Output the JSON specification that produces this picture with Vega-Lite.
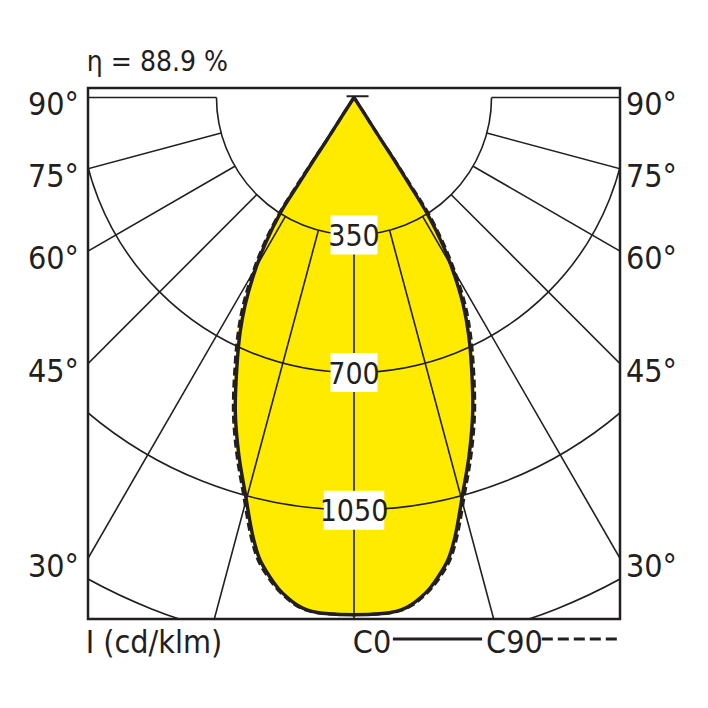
{
  "$schema": "https://vega.github.io/schema/vega-lite/v6.json",
  "description": "Polar luminous intensity diagram, C0 and C90 planes.",
  "width": 532,
  "height": 531,
  "autosize": "none",
  "padding": {"left": 88, "top": 88, "right": 88, "bottom": 89},
  "datasets": {
    "curve": [
      {"y": 0, "l0": 0, "r0": 0, "l90": 0, "r90": 0},
      {"y": 31, "l0": -20, "r0": 20, "l90": -20, "r90": 20},
      {"y": 64, "l0": -41, "r0": 41, "l90": -41, "r90": 41},
      {"y": 105, "l0": -67, "r0": 67, "l90": -67, "r90": 67},
      {"y": 151, "l0": -97, "r0": 97, "l90": -98, "r90": 98},
      {"y": 223, "l0": -143, "r0": 142, "l90": -145, "r90": 144},
      {"y": 293, "l0": -187, "r0": 185, "l90": -189, "r90": 188},
      {"y": 375, "l0": -227, "r0": 226, "l90": -230, "r90": 229},
      {"y": 456, "l0": -257, "r0": 257, "l90": -261, "r90": 261},
      {"y": 528, "l0": -277, "r0": 278, "l90": -282, "r90": 283},
      {"y": 599, "l0": -290, "r0": 291, "l90": -295, "r90": 296},
      {"y": 685, "l0": -298, "r0": 299, "l90": -303, "r90": 304},
      {"y": 803, "l0": -302, "r0": 302, "l90": -307, "r90": 307},
      {"y": 910, "l0": -293, "r0": 293, "l90": -298, "r90": 298},
      {"y": 1006, "l0": -277, "r0": 277, "l90": -282, "r90": 282},
      {"y": 1118, "l0": -257, "r0": 257, "l90": -262, "r90": 262},
      {"y": 1177, "l0": -239, "r0": 239, "l90": -244, "r90": 244},
      {"y": 1220, "l0": -214, "r0": 214, "l90": -219, "r90": 219},
      {"y": 1250, "l0": -192, "r0": 192, "l90": -196, "r90": 196},
      {"y": 1271, "l0": -171, "r0": 171, "l90": -175, "r90": 175},
      {"y": 1290, "l0": -147, "r0": 147, "l90": -151, "r90": 151},
      {"y": 1304, "l0": -120, "r0": 120, "l90": -123, "r90": 123},
      {"y": 1311, "l0": -90, "r0": 90, "l90": -93, "r90": 93},
      {"y": 1315, "l0": -45, "r0": 45, "l90": -46, "r90": 46},
      {"y": 1316, "l0": 0, "r0": 0, "l90": 0, "r90": 0}
    ],
    "cap": [{"x": -19, "x2": 37, "y": -3}],
    "rings": [{"r": 350}, {"r": 700}, {"r": 1050}, {"r": 1400}],
    "spokes": [
      {"x": 0, "y": 350, "x2": 0, "y2": 2000},
      {"x": -90.6, "y": 338.1, "x2": -517.6, "y2": 1931.9},
      {"x": 90.6, "y": 338.1, "x2": 517.6, "y2": 1931.9},
      {"x": -175, "y": 303.1, "x2": -1000, "y2": 1732.1},
      {"x": 175, "y": 303.1, "x2": 1000, "y2": 1732.1},
      {"x": -247.5, "y": 247.5, "x2": -1414.2, "y2": 1414.2},
      {"x": 247.5, "y": 247.5, "x2": 1414.2, "y2": 1414.2},
      {"x": -303.1, "y": 175, "x2": -1732.1, "y2": 1000},
      {"x": 303.1, "y": 175, "x2": 1732.1, "y2": 1000},
      {"x": -338.1, "y": 90.6, "x2": -1931.9, "y2": 517.6},
      {"x": 338.1, "y": 90.6, "x2": 1931.9, "y2": 517.6},
      {"x": -350, "y": 0, "x2": -2000, "y2": 0},
      {"x": 350, "y": 0, "x2": 2000, "y2": 0}
    ],
    "angles": [
      {"t": "90°", "y": 44},
      {"t": "75°", "y": 227},
      {"t": "60°", "y": 436},
      {"t": "45°", "y": 724},
      {"t": "30°", "y": 1220}
    ],
    "values": [
      {"t": "350", "y": 350},
      {"t": "700", "y": 700},
      {"t": "1050", "y": 1050}
    ],
    "notes": [
      {"t": "η = 88.9 %", "x": -680, "y": -66},
      {"t": "I (cd/klm)", "x": -683, "y": 1414},
      {"t": "C0", "x": -3, "y": 1414},
      {"t": "C90", "x": 336, "y": 1414}
    ],
    "keys": [
      {"c": "C0", "x": 99, "x2": 326, "y": 1378},
      {"c": "C90", "x": 478, "x2": 670, "y": 1378}
    ]
  },
  "layer": [
    {
      "data": {"name": "curve"},
      "mark": {"type": "area", "orient": "horizontal", "interpolate": "catmull-rom", "color": "#ffeb00", "clip": true},
      "encoding": {
        "y": {"field": "y", "type": "quantitative", "scale": {"domain": [-24, 1327], "reverse": true, "nice": false, "zero": false}},
        "x": {"field": "l90", "type": "quantitative", "scale": {"domain": [-677, 677], "nice": false, "zero": false}},
        "x2": {"field": "r90"}
      }
    },
    {
      "data": {"name": "rings"},
      "mark": {"type": "arc", "theta": 1.5708, "theta2": 4.7124, "fill": null, "stroke": "#231f20", "strokeWidth": 1.6, "clip": true},
      "encoding": {
        "x": {"datum": 0, "type": "quantitative", "scale": {"domain": [-677, 677], "nice": false, "zero": false}},
        "y": {"datum": 0, "type": "quantitative", "scale": {"domain": [-24, 1327], "reverse": true, "nice": false, "zero": false}},
        "radius": {"field": "r", "type": "quantitative", "scale": {"type": "linear", "domain": [0, 677], "range": [0, 266]}},
        "radius2": {"field": "r"}
      }
    },
    {
      "data": {"name": "spokes"},
      "mark": {"type": "rule", "color": "#231f20", "strokeWidth": 1.6, "clip": true},
      "encoding": {
        "x": {"field": "x", "type": "quantitative", "scale": {"domain": [-677, 677], "nice": false, "zero": false}},
        "y": {"field": "y", "type": "quantitative", "scale": {"domain": [-24, 1327], "reverse": true, "nice": false, "zero": false}},
        "x2": {"field": "x2"},
        "y2": {"field": "y2"}
      }
    },
    {
      "data": {"name": "values"},
      "mark": {"type": "point", "filled": true, "fill": "white", "opacity": 1, "strokeWidth": 0, "size": 1521},
      "encoding": {
        "x": {"datum": 0, "type": "quantitative", "scale": {"domain": [-677, 677], "nice": false, "zero": false}},
        "y": {"field": "y", "type": "quantitative", "scale": {"domain": [-24, 1327], "reverse": true, "nice": false, "zero": false}},
        "shape": {"condition": {"test": "datum.t == '1050'", "value": "M-1.55,-1H1.55V1H-1.55Z"}, "value": "M-1.2,-1H1.2V1H-1.2Z"}
      }
    },
    {
      "data": {"name": "values"},
      "mark": {"type": "text", "fontSize": 30, "align": "center", "baseline": "middle", "dy": 2, "color": "#231f20"},
      "encoding": {
        "x": {"datum": 0, "type": "quantitative", "scale": {"domain": [-677, 677], "nice": false, "zero": false}},
        "y": {"field": "y", "type": "quantitative", "scale": {"domain": [-24, 1327], "reverse": true, "nice": false, "zero": false}},
        "text": {"field": "t"}
      }
    },
    {
      "data": {"name": "curve"},
      "transform": [{"fold": ["l90", "r90"], "as": ["side", "xv"]}],
      "mark": {"type": "line", "interpolate": "catmull-rom", "color": "#231f20", "strokeWidth": 3, "strokeDash": [8, 4], "clip": true},
      "encoding": {
        "x": {"field": "xv", "type": "quantitative", "scale": {"domain": [-677, 677], "nice": false, "zero": false}},
        "y": {"field": "y", "type": "quantitative", "scale": {"domain": [-24, 1327], "reverse": true, "nice": false, "zero": false}},
        "detail": {"field": "side"},
        "order": {"field": "y"}
      }
    },
    {
      "data": {"name": "curve"},
      "transform": [{"fold": ["l0", "r0"], "as": ["side", "xv"]}],
      "mark": {"type": "line", "interpolate": "catmull-rom", "color": "#231f20", "strokeWidth": 3.4, "strokeJoin": "miter", "clip": true},
      "encoding": {
        "x": {"field": "xv", "type": "quantitative", "scale": {"domain": [-677, 677], "nice": false, "zero": false}},
        "y": {"field": "y", "type": "quantitative", "scale": {"domain": [-24, 1327], "reverse": true, "nice": false, "zero": false}},
        "detail": {"field": "side"},
        "order": {"field": "y"}
      }
    },
    {
      "data": {"name": "cap"},
      "mark": {"type": "rule", "color": "#231f20", "strokeWidth": 2},
      "encoding": {
        "x": {"field": "x", "type": "quantitative", "scale": {"domain": [-677, 677], "nice": false, "zero": false}},
        "x2": {"field": "x2"},
        "y": {"field": "y", "type": "quantitative", "scale": {"domain": [-24, 1327], "reverse": true, "nice": false, "zero": false}}
      }
    },
    {
      "data": {"name": "angles"},
      "mark": {"type": "text", "fontSize": 32, "align": "right", "baseline": "alphabetic", "color": "#231f20"},
      "encoding": {
        "x": {"datum": -700, "type": "quantitative", "scale": {"domain": [-677, 677], "nice": false, "zero": false}},
        "y": {"field": "y", "type": "quantitative", "scale": {"domain": [-24, 1327], "reverse": true, "nice": false, "zero": false}},
        "text": {"field": "t"}
      }
    },
    {
      "data": {"name": "angles"},
      "mark": {"type": "text", "fontSize": 32, "align": "left", "baseline": "alphabetic", "color": "#231f20"},
      "encoding": {
        "x": {"datum": 692, "type": "quantitative", "scale": {"domain": [-677, 677], "nice": false, "zero": false}},
        "y": {"field": "y", "type": "quantitative", "scale": {"domain": [-24, 1327], "reverse": true, "nice": false, "zero": false}},
        "text": {"field": "t"}
      }
    },
    {
      "data": {"name": "notes"},
      "mark": {"type": "text", "align": "left", "baseline": "alphabetic", "color": "#231f20"},
      "encoding": {
        "x": {"field": "x", "type": "quantitative", "scale": {"domain": [-677, 677], "nice": false, "zero": false}},
        "y": {"field": "y", "type": "quantitative", "scale": {"domain": [-24, 1327], "reverse": true, "nice": false, "zero": false}},
        "text": {"field": "t"},
        "size": {"condition": {"test": "datum.y < 0", "value": 28}, "value": 32}
      }
    },
    {
      "data": {"name": "keys"},
      "mark": {"type": "rule", "color": "#231f20", "strokeWidth": 3},
      "encoding": {
        "x": {"field": "x", "type": "quantitative", "scale": {"domain": [-677, 677], "nice": false, "zero": false}},
        "x2": {"field": "x2"},
        "y": {"field": "y", "type": "quantitative", "scale": {"domain": [-24, 1327], "reverse": true, "nice": false, "zero": false}},
        "strokeDash": {"condition": {"test": "datum.c == 'C90'", "value": [11, 5]}, "value": [1, 0]}
      }
    }
  ],
  "config": {
    "view": {"stroke": "#231f20", "strokeWidth": 2.5},
    "axis": {"disable": true},
    "text": {"font": "Liberation Sans Narrow, DejaVu Sans Condensed, sans-serif"}
  }
}
